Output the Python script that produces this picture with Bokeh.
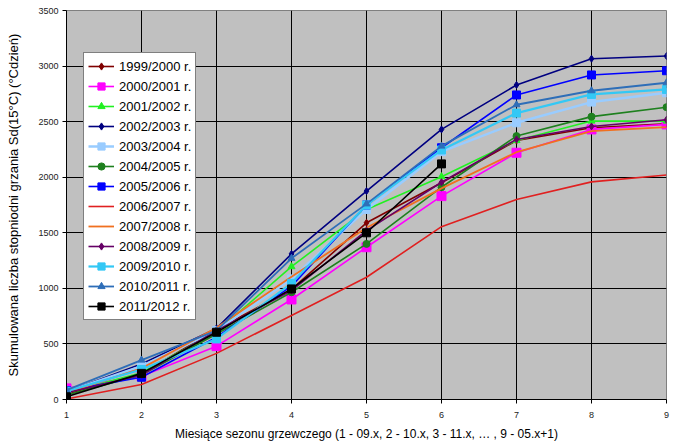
from bokeh.plotting import figure
from bokeh.models import Range1d, FixedTicker, Legend, LegendItem
from bokeh.embed import file_html
from bokeh.resources import INLINE

months = [1, 2, 3, 4, 5, 6, 7, 8, 9]
y_ticks = [0, 500, 1000, 1500, 2000, 2500, 3000, 3500]

seasons = ["1999/2000 r.", "2000/2001 r.", "2001/2002 r.", "2002/2003 r.", "2003/2004 r.",
           "2004/2005 r.", "2005/2006 r.", "2006/2007 r.", "2007/2008 r.", "2008/2009 r.",
           "2009/2010 r.", "2010/2011 r.", "2011/2012 r."]

s1999 = [50, 230, 630, 990, 1590, 1950, 2330, 2445, 2480]
s2000 = [100, 210, 480, 900, 1370, 1830, 2220, 2430, 2475]
s2001 = [60, 240, 610, 1195, 1710, 2005, 2330, 2505, 2505]
s2002 = [70, 320, 640, 1310, 1875, 2430, 2830, 3066, 3090]
s2003 = [70, 300, 620, 1085, 1710, 2230, 2490, 2676, 2760]
s2004 = [40, 220, 590, 965, 1400, 1910, 2370, 2545, 2630]
s2005 = [80, 200, 560, 1020, 1750, 2265, 2740, 2920, 2958]
s2006 = [5, 135, 415, 755, 1100, 1555, 1800, 1958, 2020]
s2007 = [60, 280, 645, 1105, 1545, 1900, 2225, 2415, 2450]
s2008 = [60, 220, 620, 980, 1520, 1955, 2340, 2457, 2517]
s2009 = [75, 270, 545, 1045, 1750, 2245, 2577, 2745, 2790]
s2010 = [85, 355, 620, 1270, 1760, 2280, 2652, 2778, 2850]
s2011 = [25, 235, 605, 995, 1500, 2120]

series = [s1999, s2000, s2001, s2002, s2003, s2004, s2005, s2006, s2007, s2008, s2009, s2010, s2011]

colors = ["#800000", "#FF00FF", "#22F022", "#000080", "#99CCFF", "#1E801E", "#0000FF",
          "#E02020", "#F07020", "#660066", "#33C8F5", "#2E6EB8", "#000000"]
markers = ["diamond", "square", "triangle", "diamond", "square", "circle", "square",
           None, None, "diamond", "square", "triangle", "square"]
msizes = [7, 9, 7, 7, 8, 7, 8, 0, 0, 7, 8, 7, 8]
lwidths = [1.6, 1.6, 1.6, 1.6, 2.5, 1.6, 1.6, 1.6, 1.8, 1.6, 2.2, 1.8, 1.6]

FONT = "Liberation Sans"

p = figure(width=672, height=444, x_range=Range1d(1, 9), y_range=Range1d(0, 3500),
           output_backend="svg", toolbar_location=None,
           min_border_left=66, min_border_right=6, min_border_top=10, min_border_bottom=45)

p.background_fill_color = "#C0C0C0"
p.border_fill_color = "white"
p.outline_line_color = "#808080"
p.outline_line_width = 1

p.xaxis.ticker = FixedTicker(ticks=months)
p.yaxis.ticker = FixedTicker(ticks=y_ticks)
p.xgrid.ticker = FixedTicker(ticks=months)
p.ygrid.ticker = FixedTicker(ticks=y_ticks)
for g in (p.xgrid, p.ygrid):
    g.grid_line_color = "black"
    g.grid_line_width = 1
    g.grid_line_alpha = 1

for ax in (p.xaxis, p.yaxis):
    ax.axis_line_color = "black"
    ax.major_tick_line_color = "black"
    ax.minor_tick_line_color = None
    ax.major_tick_out = 4
    ax.major_tick_in = 0
    ax.major_label_text_font = FONT
    ax.major_label_text_font_size = "9px"
    ax.major_label_text_color = "#222222"
    ax.axis_label_text_font = FONT
    ax.axis_label_text_font_style = "normal"
    ax.axis_label_text_color = "black"

p.xaxis.axis_label_text_font_size = "12px"
p.yaxis.axis_label_text_font_size = "13px"
p.xaxis.major_label_standoff = 8
p.xaxis.axis_label_standoff = 6
p.yaxis.major_label_standoff = 4
p.yaxis.axis_label_standoff = 14

p.xaxis.axis_label = "Miesiące sezonu grzewczego (1 - 09.x, 2 - 10.x, 3 - 11.x, … , 9 - 05.x+1)"
p.yaxis.axis_label = "Skumulowana liczba stopniodni grzania Sd(15°C) (°Cdzień)"

items = []
for name, vals, c, m, ms, lw in zip(seasons, series, colors, markers, msizes, lwidths):
    xs = months[:len(vals)]
    rs = [p.line(xs, vals, line_color=c, line_width=lw)]
    if m is not None:
        rs.append(p.scatter(xs, vals, marker=m, size=ms, fill_color=c, line_color=c))
    items.append(LegendItem(label=name, renderers=rs))

legend = Legend(items=items, location=(17, 79))
legend.label_text_font = FONT
legend.label_text_font_size = "13px"
legend.label_text_color = "black"
legend.label_height = 18
legend.glyph_height = 18
legend.glyph_width = 26
legend.label_standoff = 5
legend.spacing = 2
legend.padding = 4
legend.margin = 0
legend.border_line_color = "black"
legend.border_line_width = 1
legend.background_fill_color = "white"
legend.background_fill_alpha = 1
p.add_layout(legend, "center")

open("out.html", "w").write(file_html(p, INLINE))
